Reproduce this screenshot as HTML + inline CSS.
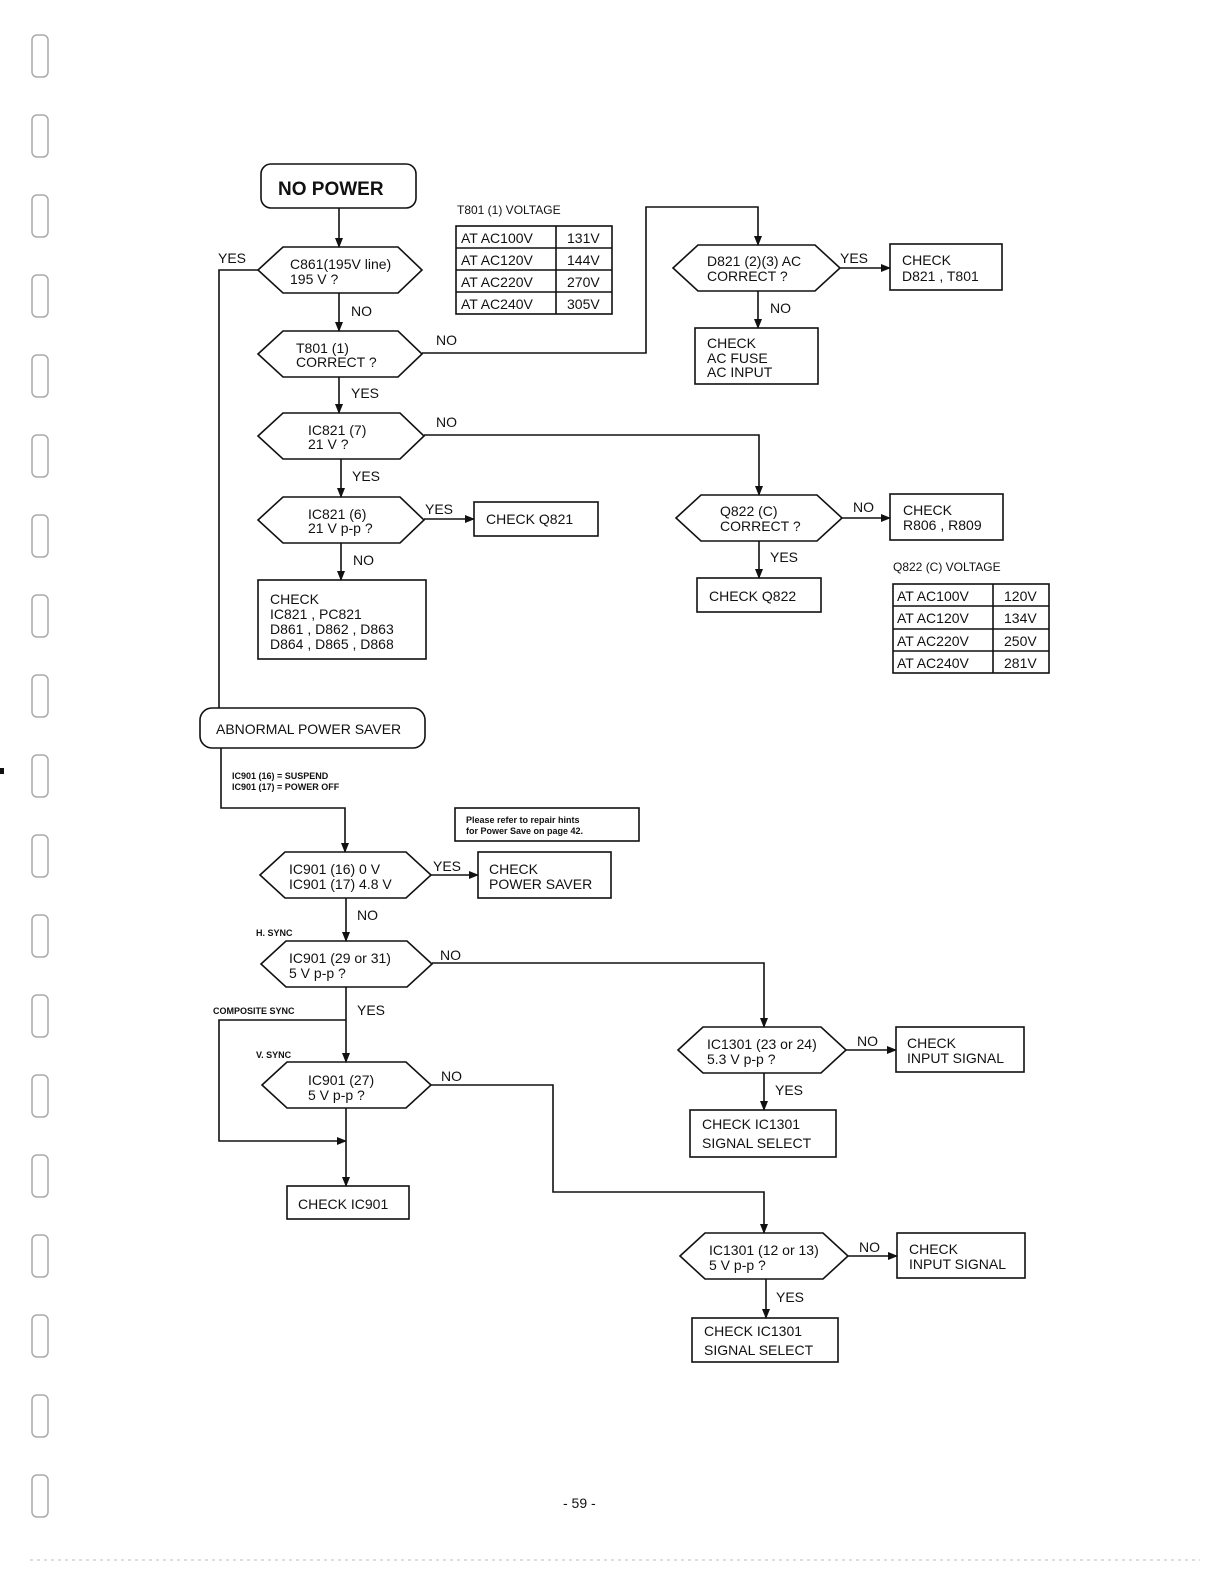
<!DOCTYPE html>
<html><head><meta charset="utf-8"><style>
html,body{margin:0;padding:0;background:#fff}
svg{display:block}
text{font-family:"Liberation Sans",Arial,sans-serif;fill:#111}
.t{font-size:14px}
.s{font-size:9px;font-weight:bold}
</style></head><body>
<svg width="1224" height="1584" viewBox="0 0 1224 1584" xmlns="http://www.w3.org/2000/svg">
<defs><marker id="a" markerWidth="10" markerHeight="10" refX="9" refY="5" orient="auto" markerUnits="userSpaceOnUse"><path d="M0,1 L10,5 L0,9 z" fill="#111"/></marker></defs>
<g fill="none" stroke="#aaa" stroke-width="1.5">
<rect x="32" y="35" width="16" height="42" rx="5"/><rect x="32" y="115" width="16" height="42" rx="5"/><rect x="32" y="195" width="16" height="42" rx="5"/><rect x="32" y="275" width="16" height="42" rx="5"/><rect x="32" y="355" width="16" height="42" rx="5"/><rect x="32" y="435" width="16" height="42" rx="5"/><rect x="32" y="515" width="16" height="42" rx="5"/><rect x="32" y="595" width="16" height="42" rx="5"/><rect x="32" y="675" width="16" height="42" rx="5"/><rect x="32" y="755" width="16" height="42" rx="5"/><rect x="32" y="835" width="16" height="42" rx="5"/><rect x="32" y="915" width="16" height="42" rx="5"/><rect x="32" y="995" width="16" height="42" rx="5"/><rect x="32" y="1075" width="16" height="42" rx="5"/><rect x="32" y="1155" width="16" height="42" rx="5"/><rect x="32" y="1235" width="16" height="42" rx="5"/><rect x="32" y="1315" width="16" height="42" rx="5"/><rect x="32" y="1395" width="16" height="42" rx="5"/><rect x="32" y="1475" width="16" height="42" rx="5"/>
</g>
<rect x="0" y="768" width="4" height="6" fill="#111"/>
<line x1="30" y1="1560" x2="1200" y2="1560" stroke="#bbb" stroke-dasharray="3,4"/>
<g fill="none" stroke="#111" stroke-width="1.6">
<rect x="261" y="164" width="155" height="44" rx="10"/>
<rect x="200" y="708" width="225" height="40" rx="12"/>
<path d="M258,270 L283,247 L398,247 L422,270 L398,293 L283,293 Z"/>
<path d="M258,354 L283,331 L398,331 L422,354 L398,377 L283,377 Z"/>
<path d="M258,436 L283,413 L400,413 L424,436 L400,459 L283,459 Z"/>
<path d="M258,520 L283,497 L400,497 L424,520 L400,543 L283,543 Z"/>
<path d="M673,268 L698,245 L815,245 L840,268 L815,291 L698,291 Z"/>
<path d="M676,518 L701,495 L817,495 L842,518 L817,541 L701,541 Z"/>
<path d="M260,875 L285,852 L406,852 L431,875 L406,898 L285,898 Z"/>
<path d="M261,964 L286,941 L407,941 L432,964 L407,987 L286,987 Z"/>
<path d="M262,1085 L287,1062 L406,1062 L431,1085 L406,1108 L287,1108 Z"/>
<path d="M678,1050 L703,1027 L821,1027 L846,1050 L821,1073 L703,1073 Z"/>
<path d="M680,1256 L705,1233 L823,1233 L848,1256 L823,1279 L705,1279 Z"/>
<rect x="890" y="244" width="112" height="46"/>
<rect x="695" y="328" width="123" height="56"/>
<rect x="474" y="502" width="124" height="34"/>
<rect x="258" y="580" width="168" height="79"/>
<rect x="890" y="494" width="113" height="46"/>
<rect x="697" y="578" width="124" height="34"/>
<rect x="455" y="808" width="184" height="33"/>
<rect x="478" y="852" width="133" height="46"/>
<rect x="287" y="1186" width="122" height="33"/>
<rect x="896" y="1027" width="128" height="45"/>
<rect x="690" y="1110" width="146" height="47"/>
<rect x="897" y="1233" width="128" height="45"/>
<rect x="692" y="1318" width="146" height="44"/>
<rect x="456" y="226" width="156" height="88"/>
<line x1="456" y1="248" x2="612" y2="248"/><line x1="456" y1="270" x2="612" y2="270"/><line x1="456" y1="292" x2="612" y2="292"/><line x1="556" y1="226" x2="556" y2="314"/>
<rect x="893" y="584" width="156" height="89"/>
<line x1="893" y1="606" x2="1049" y2="606"/><line x1="893" y1="629" x2="1049" y2="629"/><line x1="893" y1="651" x2="1049" y2="651"/><line x1="993" y1="584" x2="993" y2="673"/>
<line x1="339" y1="208" x2="339" y2="247" marker-end="url(#a)"/>
<polyline points="258,270 219,270 219,708"/>
<line x1="339" y1="293" x2="339" y2="331" marker-end="url(#a)"/>
<polyline points="422,353 646,353 646,207 758,207 758,245" marker-end="url(#a)"/>
<line x1="840" y1="268" x2="890" y2="268" marker-end="url(#a)"/>
<line x1="758" y1="291" x2="758" y2="328" marker-end="url(#a)"/>
<line x1="339" y1="377" x2="339" y2="413" marker-end="url(#a)"/>
<polyline points="424,435 759,435 759,495" marker-end="url(#a)"/>
<line x1="341" y1="459" x2="341" y2="497" marker-end="url(#a)"/>
<line x1="424" y1="519" x2="474" y2="519" marker-end="url(#a)"/>
<line x1="341" y1="543" x2="341" y2="580" marker-end="url(#a)"/>
<line x1="842" y1="518" x2="890" y2="518" marker-end="url(#a)"/>
<line x1="759" y1="541" x2="759" y2="578" marker-end="url(#a)"/>
<polyline points="221,748 221,808 345,808 345,852" marker-end="url(#a)"/>
<line x1="431" y1="875" x2="478" y2="875" marker-end="url(#a)"/>
<line x1="346" y1="898" x2="346" y2="941" marker-end="url(#a)"/>
<polyline points="432,963 764,963 764,1027" marker-end="url(#a)"/>
<line x1="346" y1="987" x2="346" y2="1062" marker-end="url(#a)"/>
<polyline points="346,1020 219,1020 219,1141 346,1141" marker-end="url(#a)"/>
<polyline points="431,1085 553,1085 553,1192 764,1192 764,1233" marker-end="url(#a)"/>
<line x1="346" y1="1108" x2="346" y2="1186" marker-end="url(#a)"/>
<line x1="846" y1="1050" x2="896" y2="1050" marker-end="url(#a)"/>
<line x1="764" y1="1073" x2="764" y2="1110" marker-end="url(#a)"/>
<line x1="848" y1="1256" x2="897" y2="1256" marker-end="url(#a)"/>
<line x1="766" y1="1279" x2="766" y2="1318" marker-end="url(#a)"/>
</g>
<text x="278" y="195" style="font-size:19px;font-weight:bold">NO  POWER</text>
<text x="216" y="734" class="t">ABNORMAL POWER SAVER</text>
<g class="t">
<text x="218" y="263">YES</text><text x="351" y="316">NO</text><text x="436" y="345">NO</text><text x="351" y="398">YES</text>
<text x="436" y="427">NO</text><text x="352" y="481">YES</text><text x="425" y="514">YES</text><text x="353" y="565">NO</text>
<text x="840" y="263">YES</text><text x="770" y="313">NO</text><text x="853" y="512">NO</text><text x="770" y="562">YES</text>
<text x="433" y="871">YES</text><text x="357" y="920">NO</text><text x="440" y="960">NO</text><text x="357" y="1015">YES</text>
<text x="441" y="1081">NO</text><text x="857" y="1046">NO</text><text x="775" y="1095">YES</text><text x="859" y="1252">NO</text><text x="776" y="1302">YES</text>
<text x="290" y="269">C861(195V line)</text><text x="290" y="284">195 V ?</text>
<text x="296" y="353">T801 (1)</text><text x="296" y="367">CORRECT ?</text>
<text x="308" y="435">IC821 (7)</text><text x="308" y="449">21 V ?</text>
<text x="308" y="519">IC821 (6)</text><text x="308" y="533">21 V p-p ?</text>
<text x="707" y="266">D821 (2)(3) AC</text><text x="707" y="281">CORRECT ?</text>
<text x="720" y="516">Q822 (C)</text><text x="720" y="531">CORRECT ?</text>
<text x="902" y="265">CHECK</text><text x="902" y="281">D821 , T801</text>
<text x="707" y="348">CHECK</text><text x="707" y="363">AC FUSE</text><text x="707" y="377">AC INPUT</text>
<text x="486" y="524">CHECK  Q821</text>
<text x="270" y="604">CHECK</text><text x="270" y="619">IC821 , PC821</text><text x="270" y="634">D861 , D862 , D863</text><text x="270" y="649">D864 , D865 , D868</text>
<text x="903" y="515">CHECK</text><text x="903" y="530">R806 , R809</text>
<text x="709" y="601">CHECK  Q822</text>
<text x="461" y="243">AT AC100V</text><text x="567" y="243">131V</text>
<text x="461" y="265">AT AC120V</text><text x="567" y="265">144V</text>
<text x="461" y="287">AT AC220V</text><text x="567" y="287">270V</text>
<text x="461" y="309">AT AC240V</text><text x="567" y="309">305V</text>
<text x="897" y="601">AT AC100V</text><text x="1004" y="601">120V</text>
<text x="897" y="623">AT AC120V</text><text x="1004" y="623">134V</text>
<text x="897" y="646">AT AC220V</text><text x="1004" y="646">250V</text>
<text x="897" y="668">AT AC240V</text><text x="1004" y="668">281V</text>
<text x="289" y="874">IC901 (16)  0 V</text><text x="289" y="889">IC901 (17)  4.8 V</text>
<text x="489" y="874">CHECK</text><text x="489" y="889">POWER SAVER</text>
<text x="289" y="963">IC901 (29 or 31)</text><text x="289" y="978">5 V p-p ?</text>
<text x="308" y="1085">IC901 (27)</text><text x="308" y="1100">5 V p-p ?</text>
<text x="298" y="1209">CHECK  IC901</text>
<text x="707" y="1049">IC1301 (23 or 24)</text><text x="707" y="1064">5.3 V p-p ?</text>
<text x="907" y="1048">CHECK</text><text x="907" y="1063">INPUT SIGNAL</text>
<text x="702" y="1129">CHECK  IC1301</text><text x="702" y="1148">SIGNAL SELECT</text>
<text x="709" y="1255">IC1301 (12 or 13)</text><text x="709" y="1270">5 V p-p ?</text>
<text x="909" y="1254">CHECK</text><text x="909" y="1269">INPUT SIGNAL</text>
<text x="704" y="1336">CHECK  IC1301</text><text x="704" y="1355">SIGNAL SELECT</text>
<text x="563" y="1508">- 59 -</text>
</g>
<text x="457" y="214" style="font-size:12px">T801 (1) VOLTAGE</text>
<text x="893" y="571" style="font-size:12px">Q822 (C) VOLTAGE</text>
<text x="232" y="779" class="s">IC901 (16) = SUSPEND</text>
<text x="232" y="790" class="s">IC901 (17) = POWER OFF</text>
<text x="466" y="823" class="s">Please refer to repair hints</text>
<text x="466" y="834" class="s">for Power Save on page 42.</text>
<text x="256" y="936" class="s">H. SYNC</text>
<text x="213" y="1014" class="s">COMPOSITE SYNC</text>
<text x="256" y="1058" class="s">V. SYNC</text>
</svg>
</body></html>
